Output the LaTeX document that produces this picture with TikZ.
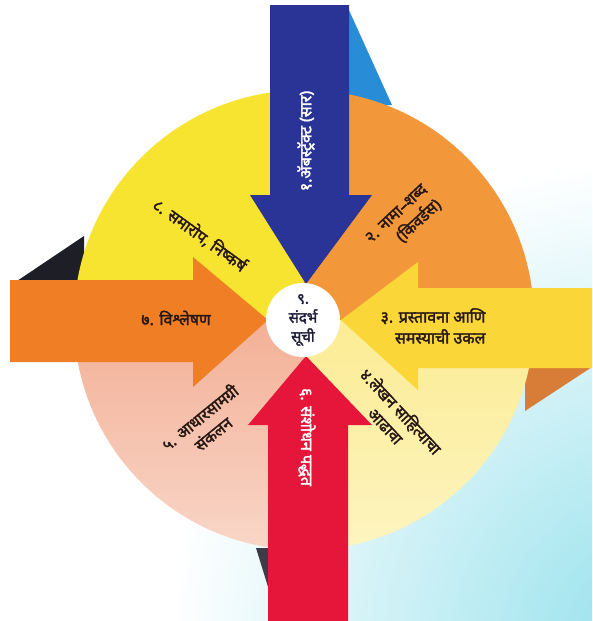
\documentclass[tikz,border=0pt]{standalone}
\usepackage{fontspec}
\newfontfamily\dev[Script=Devanagari, AutoFakeBold=2.2]{Noto Sans}
\definecolor{bgcyan}{RGB}{150,225,236}
\definecolor{shblue}{RGB}{40,140,215}
\definecolor{shblack}{RGB}{30,30,38}
\definecolor{shorange}{RGB}{215,125,55}
\definecolor{shdark}{RGB}{60,60,72}
\definecolor{secyellow}{RGB}{247,228,48}
\definecolor{secorange}{RGB}{243,152,58}
\definecolor{secpale}{RGB}{252,236,148}
\definecolor{secpaleb}{RGB}{253,244,192}
\definecolor{secpeach}{RGB}{243,176,150}
\definecolor{secpeachb}{RGB}{249,214,200}
\definecolor{arblue}{RGB}{42,52,150}
\definecolor{arred}{RGB}{230,22,58}
\definecolor{arorange}{RGB}{240,126,36}
\definecolor{aryellow}{RGB}{250,214,56}
\definecolor{txtdark}{RGB}{40,24,20}
\definecolor{txtnavy}{RGB}{30,30,60}
\begin{document}
\begin{tikzpicture}[x=1pt,y=-1pt,
  lbl/.style={font=\dev\bfseries\fontsize{16}{21}\selectfont, text=txtdark, align=center, inner sep=0pt},
  wlbl/.style={lbl, text=white}]
\useasboundingbox (0,0) rectangle (592,621);
% background
\fill[white] (0,0) rectangle (592,621);
\begin{scope}
\clip (0,0) rectangle (592,621);
\shade[inner color=bgcyan, outer color=white] (650,640) circle (480);
\end{scope}
% shadows
\fill[shblue] (348,8) -- (392,105) -- (348,105) -- cycle;
\fill[shblack] (17,281) -- (84,236) -- (84,281) -- cycle;
\fill[shorange] (525,367) -- (592,367) -- (525,411) -- cycle;
\fill[shdark] (256,548) -- (269,548) -- (269,590) -- cycle;
% quadrants
\fill[secyellow] (304,320) -- (74,320) arc[start angle=180, end angle=270, radius=230] -- cycle;
\fill[secorange] (304,320) -- (304,90) arc[start angle=270, end angle=360, radius=230] -- cycle;
\shade[top color=secpale, bottom color=secpaleb] (304,320) -- (534,320) arc[start angle=0, end angle=90, radius=230] -- cycle;
\shade[top color=secpeach, bottom color=secpeachb] (304,320) -- (304,550) arc[start angle=90, end angle=180, radius=230] -- cycle;
% arrows
\fill[arblue] (270,5) -- (349,5) -- (349,195) -- (372,195) -- (306,284) -- (250,195) -- (270,195) -- cycle;
\fill[arred] (268,621) -- (268,425) -- (248,425) -- (306,356) -- (372,425) -- (348,425) -- (348,621) -- cycle;
\fill[arorange] (10,280) -- (193,280) -- (193,257) -- (268,320) -- (193,387) -- (193,362) -- (10,362) -- cycle;
\fill[aryellow] (592,288) -- (418,288) -- (418,262) -- (341,320) -- (418,390) -- (418,368) -- (592,368) -- cycle;
% centre
\node[circle, fill=white, minimum size=74pt, inner sep=0pt, font=\dev\bfseries\fontsize{15}{19}\selectfont, text=txtnavy, align=center] (c9) at (303,320) {९.\\संदर्भ\\सूची};
% labels
\node[wlbl, rotate=90] (t1) at (306,141) {१.ॲबस्ट्रॅक्ट (सार)};
\node[lbl, rotate=43, align=right] (t2) at (404,222) {२. नामा–शब्द\\(किवर्डस)};
\node[lbl, align=right] (t3) at (433,326) {३. प्रस्तावना आणि\\समस्याची उकल};
\node[lbl, rotate=-47] (t4) at (394,418) {४.लेखन साहित्याचा\\आढावा};
\node[lbl, rotate=39] (t5) at (206,425) {५. आधारसामग्री\\संकलन};
\node[wlbl, rotate=-90] (t6) at (307,437) {६. संशोधन पद्धत};
\node[lbl] (t7) at (176,318) {७. विश्लेषण};
\node[lbl, rotate=-36] (t8) at (200,235) {८. समारोप, निष्कर्ष};
\end{tikzpicture}
\end{document}
